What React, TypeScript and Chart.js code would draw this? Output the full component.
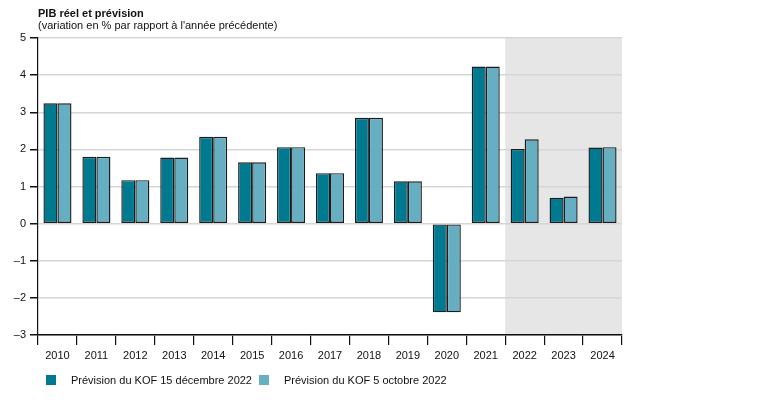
import React, { useEffect, useRef } from "react";
import { Chart, registerables } from "chart.js";

Chart.register(...registerables);

const years = ["2010", "2011", "2012", "2013", "2014", "2015", "2016", "2017", "2018", "2019", "2020", "2021", "2022", "2023", "2024"];
const forecastDec2022 = [3.24, 1.8, 1.17, 1.78, 2.34, 1.65, 2.06, 1.36, 2.85, 1.14, -2.39, 4.23, 2.01, 0.7, 2.05];
const forecastOct2022 = [3.24, 1.8, 1.17, 1.78, 2.34, 1.65, 2.06, 1.36, 2.85, 1.14, -2.39, 4.23, 2.27, 0.73, 2.06];
const seriesLabels = ["Prévision du KOF 15 décembre 2022", "Prévision du KOF 5 octobre 2022"];
const forecastStartIndex = 12;
const titleText = "PIB réel et prévision";
const subtitleText = "(variation en % par rapport à l'année précédente)";

const FONT = "'Liberation Sans', Arial, Helvetica, sans-serif";
const DARK = "#007a90";
const LIGHT = "#66afc2";

const overlayPlugin = {
  id: "overlay",
  beforeDraw(chart: any) {
    const { ctx, chartArea, scales } = chart;
    const x = scales.x;
    const half = (x.getPixelForValue(1) - x.getPixelForValue(0)) / 2;
    const start = x.getPixelForValue(forecastStartIndex) - half;
    ctx.save();
    ctx.fillStyle = "#e6e6e6";
    ctx.fillRect(start, chartArea.top, chartArea.right - start, chartArea.bottom - chartArea.top);
    ctx.restore();
  },
  afterDraw(chart: any) {
    const { ctx, chartArea } = chart;
    ctx.save();
    ctx.fillStyle = "#111";
    ctx.textBaseline = "middle";
    ctx.textAlign = "left";
    ctx.font = `bold 11px ${FONT}`;
    ctx.fillText(titleText, chartArea.left, 14);
    ctx.font = `11px ${FONT}`;
    ctx.fillText(subtitleText, chartArea.left, 26);

    const colors = [DARK, LIGHT];
    const boxX = [46, 259];
    const y = 380;
    seriesLabels.forEach((lab, i) => {
      ctx.fillStyle = colors[i];
      ctx.fillRect(boxX[i], y - 5, 10, 10);
      ctx.fillStyle = "#111";
      ctx.font = `11px ${FONT}`;
      ctx.fillText(lab, boxX[i] + 25, y + 1);
    });
    ctx.restore();
  },
};

export default function App() {
  const ref = useRef<HTMLCanvasElement>(null);
  useEffect(() => {
    if (!ref.current) return;
    const chart = new Chart(ref.current, {
      type: "bar",
      data: {
        labels: years,
        datasets: [
          {
            label: seriesLabels[0],
            data: forecastDec2022,
            backgroundColor: DARK,
            borderColor: "#1c1c1c",
            borderWidth: 1.4,
            borderSkipped: false,
            categoryPercentage: 0.72,
            barPercentage: 1,
          },
          {
            label: seriesLabels[1],
            data: forecastOct2022,
            backgroundColor: LIGHT,
            borderColor: "#1c1c1c",
            borderWidth: 1.4,
            borderSkipped: false,
            categoryPercentage: 0.72,
            barPercentage: 1,
          },
        ],
      },
      options: {
        responsive: false,
        animation: false,
        layout: { padding: { top: 38, right: 135, bottom: 48, left: 0 } },
        plugins: {
          legend: { display: false },
          title: { display: false },
          tooltip: { enabled: false },
        },
        scales: {
          x: {
            offset: true,
            grid: {
              offset: true,
              drawOnChartArea: false,
              tickColor: "#111",
              tickLength: 10,
              lineWidth: 1.2,
            },
            border: { color: "#111", width: 1.5 },
            ticks: {
              color: "#111",
              font: { family: FONT, size: 11 },
              padding: 4,
              maxRotation: 0,
              autoSkip: false,
            },
            afterFit(scale: any) {
              scale.height = 27;
            },
          },
          y: {
            min: -3,
            max: 5,
            ticks: {
              stepSize: 1,
              color: "#111",
              font: { family: FONT, size: 11 },
              padding: 4,
              callback: (v: any) => String(v).replace("-", "–"),
            },
            grid: {
              color: "#d6d6d6",
              lineWidth: 1.5,
              tickColor: "#111",
              tickLength: 8,
            },
            border: { color: "#111", width: 1.2 },
            afterFit(scale: any) {
              scale.width = 38;
            },
          },
        },
      },
      plugins: [overlayPlugin],
    });
    return () => chart.destroy();
  }, []);
  return (
    <div style={{ position: "absolute", left: 0, top: 0, width: 757, height: 410, background: "#fff" }}>
      <canvas ref={ref} width={757} height={410} />
    </div>
  );
}
